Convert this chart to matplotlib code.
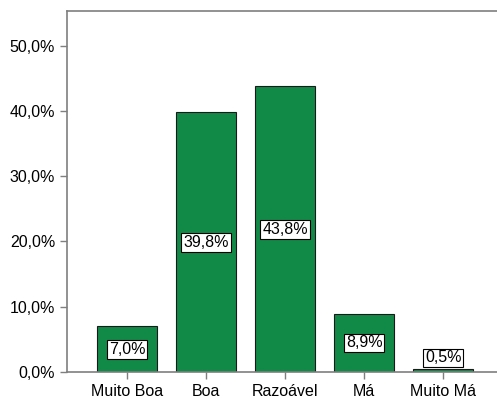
import numpy as np
import matplotlib.pyplot as plt

plt.rcParams['font.family'] = ['Liberation Sans', 'DejaVu Sans']

categories = ['Muito Boa', 'Boa', 'Razoável', 'Má', 'Muito Má']
percent = [7.0, 39.8, 43.8, 8.9, 0.5]
yticks = [0, 10, 20, 30, 40, 50]

green = '#128a47'
grey = '#7f7f7f'

fig = plt.figure(figsize=(4.97, 3.99), dpi=100)
ax = fig.add_axes([67 / 497, 27 / 399, 1 - 67 / 497, (372 - 10.5) / 399])

x = np.arange(len(categories))
ax.bar(x, percent, width=0.76, color=green, edgecolor='#1a1a1a', linewidth=0.8, zorder=2)

# value labels in white boxes, kept above the axis for tiny bars
for xi, v in zip(x, percent):
    ypos = max(v / 2, 2.15)
    ax.text(xi, ypos, f'{v:.1f}%'.replace('.', ','), ha='center', va='center',
            fontsize=11.5, zorder=3,
            bbox=dict(boxstyle='square,pad=0.12', facecolor='white',
                      edgecolor='black', linewidth=0.8))

ax.set_xlim(-0.76, 4.68)
ax.set_ylim(0, 55.4)
ax.set_xticks(x)
ax.set_xticklabels(categories)
ax.set_yticks(yticks)
ax.set_yticklabels([f'{t:.1f}%'.replace('.', ',') for t in yticks])

for side in ['left', 'top', 'bottom']:
    ax.spines[side].set_color(grey)
    ax.spines[side].set_linewidth(1.2)
ax.spines['right'].set_visible(False)

ax.tick_params(axis='both', colors=grey, labelcolor='black', labelsize=11.5,
               length=5, width=1, direction='out')

fig.savefig('out.png', dpi=100)
